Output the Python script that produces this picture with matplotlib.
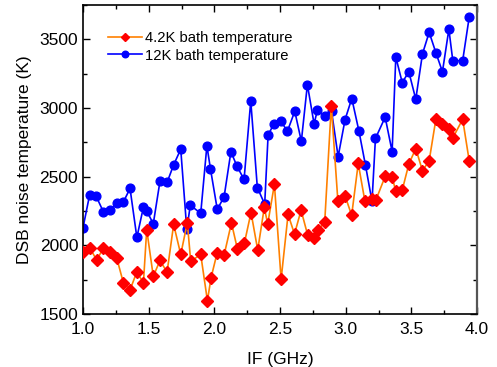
import matplotlib
matplotlib.use("Agg")
import matplotlib.pyplot as plt
from matplotlib.ticker import MultipleLocator

plt.rcParams['font.family'] = ['Liberation Sans', 'DejaVu Sans']

# 4.2K bath temperature
if_42 = [1.00, 1.053, 1.104, 1.155, 1.206, 1.257, 1.307, 1.358, 1.409, 1.46,
         1.485, 1.535, 1.586, 1.64, 1.69, 1.744, 1.794, 1.82, 1.896, 1.947,
         1.975, 2.02, 2.074, 2.13, 2.175, 2.228, 2.279, 2.33, 2.38, 2.406,
         2.457, 2.508, 2.561, 2.61, 2.66, 2.711, 2.755, 2.79, 2.84, 2.89,
         2.94, 2.995, 3.045, 3.095, 3.146, 3.197, 3.23, 3.30, 3.353, 3.38,
         3.43, 3.48, 3.533, 3.584, 3.635, 3.686, 3.736, 3.785, 3.815, 3.89,
         3.94]
t_42 = [1951, 1980, 1893, 1980, 1951, 1907, 1728, 1675, 1805, 1728,
        2115, 1774, 1890, 1805, 2152, 1934, 2165, 1883, 1934, 1597,
        1765, 1941, 1929, 2163, 1975, 2014, 2239, 1966, 2276, 2155,
        2445, 1752, 2225, 2082, 2256, 2072, 2050, 2109, 2171, 3018,
        2324, 2360, 2219, 2596, 2321, 2340, 2331, 2502, 2499, 2397,
        2402, 2591, 2705, 2543, 2616, 2918, 2880, 2845, 2782, 2918,
        2614]

# 12K bath temperature
if_12 = [1.00, 1.05, 1.10, 1.155, 1.205, 1.257, 1.307, 1.358, 1.41, 1.46,
         1.485, 1.535, 1.586, 1.64, 1.69, 1.744, 1.79, 1.817, 1.896, 1.943,
         1.97, 2.022, 2.074, 2.126, 2.172, 2.226, 2.277, 2.327, 2.383, 2.409,
         2.454, 2.505, 2.556, 2.612, 2.662, 2.708, 2.759, 2.784, 2.84, 2.892,
         2.942, 2.995, 3.046, 3.10, 3.15, 3.20, 3.226, 3.30, 3.353, 3.381,
         3.43, 3.48, 3.533, 3.584, 3.635, 3.686, 3.736, 3.785, 3.815, 3.89,
         3.94]
t_12 = [2128, 2365, 2358, 2244, 2256, 2305, 2315, 2414, 2058, 2278,
        2251, 2157, 2467, 2458, 2586, 2700, 2116, 2293, 2232, 2725,
        2558, 2262, 2353, 2682, 2576, 2480, 3051, 2421, 2300, 2802,
        2887, 2906, 2831, 2976, 2758, 3170, 2884, 2984, 2940, 2976,
        2646, 2916, 3069, 2834, 2584, 2320, 2778, 2933, 2683, 3371,
        3185, 3264, 3064, 3394, 3551, 3403, 3264, 3573, 3344, 3345,
        3663]

fig = plt.figure(figsize=(4.97, 3.67), dpi=100)
ax = fig.add_axes([0.167, 0.1444, 0.793, 0.842])

ax.plot(if_42, t_42, color='#ff8000', lw=1.2, marker='D', ms=6,
        mfc='#ff0000', mec='#ff0000', label='4.2K bath temperature', zorder=3)
ax.plot(if_12, t_12, color='#0000ff', lw=1.2, marker='o', ms=6.3,
        mfc='#0000ff', mec='#0000ff', label='12K bath temperature', zorder=2)

ax.set_xlim(1.0, 4.0)
ax.set_ylim(1500, 3750)
ax.xaxis.set_major_locator(MultipleLocator(0.5))
ax.xaxis.set_minor_locator(MultipleLocator(0.25))
ax.yaxis.set_major_locator(MultipleLocator(500))
ax.yaxis.set_minor_locator(MultipleLocator(250))
ax.tick_params(which='both', direction='in', top=True, right=True,
               labelsize=12.5, width=1)
ax.tick_params(axis='x', which='both', pad=5.5)
ax.tick_params(which='major', length=5)
ax.tick_params(which='minor', length=3)
for s in ax.spines.values():
    s.set_linewidth(1.2)
ax.spines['right'].set_color('#555555')
ax.spines['right'].set_linewidth(1.6)

ax.set_xlabel('IF (GHz)', fontsize=12.5, labelpad=11)
ax.set_ylabel('DSB noise temperature (K)', fontsize=12.5, labelpad=5)

ax.legend(loc='upper left', bbox_to_anchor=(0.048, 0.935), frameon=False,
          fontsize=10.6, handlelength=2.3, handletextpad=0.2, labelspacing=0.25,
          borderaxespad=0, markerscale=0.75)

fig.savefig('out.png', dpi=100)
